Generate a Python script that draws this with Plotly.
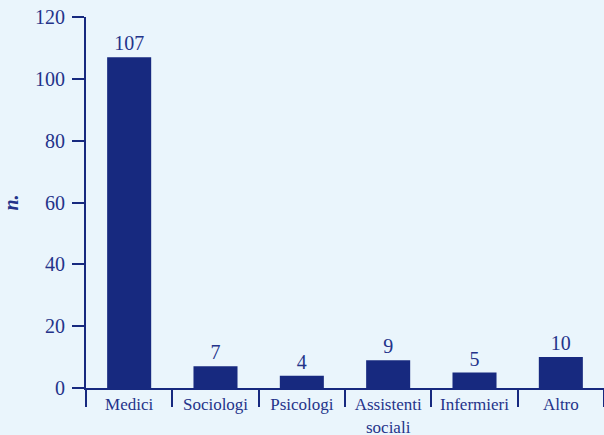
import plotly.graph_objects as go

categories = ["Medici", "Sociologi", "Psicologi", "Assistenti<br>sociali", "Infermieri", "Altro"]
values = [107, 7, 4, 9, 5, 10]
y_ticks = [0, 20, 40, 60, 80, 100, 120]

navy = "#17297f"
txt = "#24338a"
bg = "#eaf5fc"
font_family = "Liberation Serif"

fig = go.Figure(go.Bar(
    x=categories, y=values,
    marker=dict(color=navy, line=dict(width=0)),
    width=0.51,
    text=[str(v) for v in values],
    textposition="outside",
    textfont=dict(family=font_family, size=20, color=txt),
    cliponaxis=False,
))

fig.update_layout(
    width=604, height=435,
    margin=dict(l=86, r=0, t=17, b=47, autoexpand=False),
    paper_bgcolor=bg, plot_bgcolor=bg,
    showlegend=False,
    font=dict(family=font_family, color=txt),
    xaxis=dict(
        showline=True, linecolor=navy, linewidth=2,
        ticks="outside", tickson="boundaries", ticklen=17, tickwidth=2, tickcolor=navy,
        tickfont=dict(family=font_family, size=17, color=txt),
        showgrid=False, zeroline=False, fixedrange=True, automargin=False,
    ),
    yaxis=dict(
        range=[0, 120], tickvals=y_ticks,
        showline=True, linecolor=navy, linewidth=2,
        ticks="outside", ticklen=12, tickwidth=2, tickcolor=navy,
        tickfont=dict(family=font_family, size=20, color=txt),
        ticklabelstandoff=3,
        showgrid=False, zeroline=False, automargin=False,
        title=dict(text="<b><i>n.</i></b>", font=dict(family=font_family, size=20, color=txt), standoff=14),
    ),
    bargap=0.49,
)

fig.write_html("out.html", config={"displayModeBar": False},
               post_script="document.body.style.margin='0';document.body.style.padding='0';")
